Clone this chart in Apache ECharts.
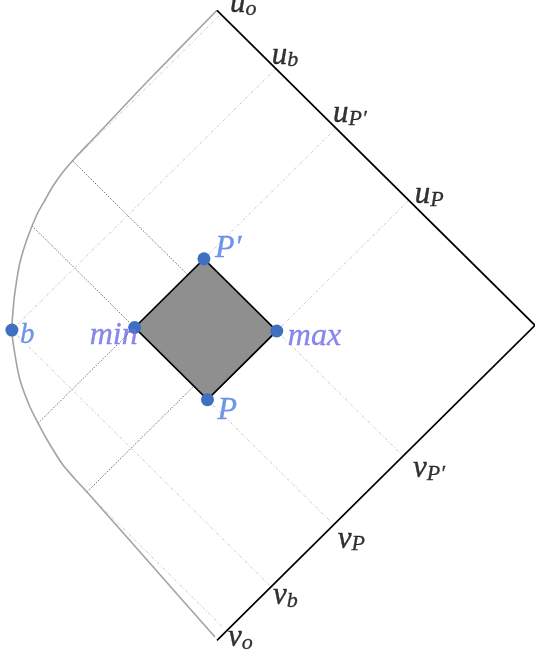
<!DOCTYPE html>
<html>
<head>
<meta charset="utf-8">
<script src="https://cdn.jsdelivr.net/npm/echarts@6/dist/echarts.min.js"></script>
<style>
html,body{margin:0;padding:0;background:#ffffff;}
#c{width:535px;height:656px;}
</style>
</head>
<body>
<div id="c"></div>
<script>
// ---- data (null coordinates: u runs along the upper edge, v along the lower edge) ----
const uTickNames  = ['o', 'b', 'P′', 'P'];
const uTickValues = [0, 0.185, 0.374, 0.603];
const vTickNames  = ['o', 'b', 'P', 'P′'];
const vTickValues = [0, 0.17, 0.367, 0.585];

const pointNames = ['b', 'min', 'max', 'P', 'P′'];
const pointU     = [0.185, 0.374, 0.603, 0.603, 0.374];
const pointV     = [0.17, 0.367, 0.585, 0.367, 0.585];

// diamond corners: min, P', max, P
const diamondU = [0.374, 0.374, 0.603, 0.603];
const diamondV = [0.367, 0.585, 0.585, 0.367];

// boundary curve
const curveU = [0, 0.0037, 0.0093, 0.0112, 0.0145, 0.0211, 0.0307, 0.0414, 0.0654, 0.0898, 0.1132, 0.1407, 0.185,
                0.2296, 0.2771, 0.3357, 0.3906, 0.4353, 0.4796, 0.5207, 0.5602, 0.776, 0.9916];
const curveV = [1, 0.773, 0.6071, 0.5423, 0.5012, 0.4633, 0.4285, 0.3916, 0.3362, 0.2908, 0.257, 0.2209, 0.17,
                0.1353, 0.1034, 0.0763, 0.0582, 0.0458, 0.0361, 0.0328, 0.031, 0.0166, 0.0021];

// faint guide lines at u_o / v_o
const uOLineU = [0.012, 0.012];
const uOLineV = [0.995, 0.54];
const vOLineU = [0.985, 0.55];
const vOLineV = [0.03, 0.03];

// dotted lines: start (u1, v1) -> end (u2, v2)
const dottedU1 = [0.052, 0.374, 0.013, 0.56];
const dottedV1 = [0.367, 0.065, 0.534, 0.031];
const dottedU2 = [0.374, 0.374, 0.56, 0.56];
const dottedV2 = [0.367, 0.367, 0.534, 0.534];

// ---- helpers ----
const xy = (u, v) => [u + v, v - u];

const faint = [];
faint.push([xy(uOLineU[0], uOLineV[0]), xy(uOLineU[1], uOLineV[1])]);
faint.push([xy(vOLineU[0], vOLineV[0]), xy(vOLineU[1], vOLineV[1])]);
faint.push([xy(uTickValues[1], 1), xy(pointU[0], pointV[0])]);
faint.push([xy(uTickValues[2], 1), xy(pointU[4], pointV[4])]);
faint.push([xy(uTickValues[3], 1), xy(pointU[2], pointV[2])]);
faint.push([xy(pointU[0], pointV[0]), xy(1, vTickValues[1])]);
faint.push([xy(pointU[3], pointV[3]), xy(1, vTickValues[2])]);
faint.push([xy(pointU[2], pointV[2]), xy(1, vTickValues[3])]);

const dotted = dottedU1.map((u, i) => [xy(u, dottedV1[i]), xy(dottedU2[i], dottedV2[i])]);

const serifFont = '"Liberation Serif", "DejaVu Serif", serif';

const tickRich = {
  m: {fontFamily: serifFont, fontStyle: 'italic', fontSize: 31, lineHeight: 32, color: '#000',
      textBorderColor: '#000', textBorderWidth: 0.4},
  s: {fontFamily: serifFont, fontStyle: 'italic', fontSize: 22, lineHeight: 14, verticalAlign: 'bottom', color: '#000',
      textBorderColor: '#000', textBorderWidth: 0.3}
};

const uLabelOffsets = [[13, -22], [-4, -29], [-3, -30], [6, -21]];
const vLabelOffsets = [[11, -18], [2, -7], [4, -1], [10, -3]];

const tickLabelData = [];
uTickNames.forEach((n, i) => {
  tickLabelData.push({
    value: xy(uTickValues[i], 1),
    label: {formatter: '{m|u}{s|' + n + '}', offset: uLabelOffsets[i]}
  });
});
vTickNames.forEach((n, i) => {
  tickLabelData.push({
    value: xy(1, vTickValues[i]),
    label: {formatter: '{m|v}{s|' + n + '}', offset: vLabelOffsets[i]}
  });
});

const blueText = '#4a7de4';
const purpleText = '#6a6ae6';
const pointLabelStyle = {
  'b':   {offset: [8, -12.5], align: 'left', fontSize: 29, color: blueText, textBorderColor: blueText},
  'min': {offset: [3, -10], align: 'right', fontSize: 32, color: purpleText, textBorderColor: purpleText},
  'max': {offset: [11, -12], align: 'left', fontSize: 32, color: purpleText, textBorderColor: purpleText},
  'P':   {offset: [10, -7], align: 'left', fontSize: 32, color: blueText, textBorderColor: blueText},
  'P′':  {offset: [11, -28], align: 'left', fontSize: 32, color: blueText, textBorderColor: blueText}
};

const pointLabelData = pointNames.map((n, i) => ({
  value: xy(pointU[i], pointV[i]),
  label: Object.assign({formatter: n, fontFamily: serifFont, fontStyle: 'italic', lineHeight: 36, textBorderWidth: 0.3},
                       pointLabelStyle[n])
}));

const chart = echarts.init(document.getElementById('c'), null, {renderer: 'canvas'});

chart.setOption({
  animation: false,
  backgroundColor: '#ffffff',
  grid: {left: 0, right: 0, top: 0, bottom: 0, containLabel: false},
  xAxis: {type: 'value', min: 0.31761, max: 2.0, show: false},
  yAxis: {type: 'value', min: -1.0498, max: 1.0327, show: false},
  series: [
    {
      type: 'lines', coordinateSystem: 'cartesian2d', silent: true, z: 1,
      lineStyle: {color: '#c2c2c2', width: 0.9, type: [3, 2, 1, 2], opacity: 1},
      data: faint.map(c => ({coords: c}))
    },
    {
      type: 'lines', coordinateSystem: 'cartesian2d', silent: true, z: 2,
      lineStyle: {color: '#444', width: 1, type: [1, 1.6], opacity: 1},
      data: dotted.map(c => ({coords: c}))
    },
    {
      type: 'line', silent: true, z: 3, symbol: 'none', smooth: 0.3,
      lineStyle: {color: '#a3a3a3', width: 1.6},
      data: curveU.map((u, i) => xy(u, curveV[i]))
    },
    {
      type: 'line', silent: true, z: 4, symbol: 'none',
      lineStyle: {color: '#000', width: 1.7},
      data: [xy(0, 1), xy(1, 1), xy(1, 0)]
    },
    {
      type: 'custom', silent: true, z: 5, clip: false,
      renderItem: function (params, api) {
        const pts = diamondU.map((u, i) => api.coord(xy(u, diamondV[i])));
        return {
          type: 'polygon',
          shape: {points: pts},
          style: {fill: '#8f8f8f', stroke: '#000', lineWidth: 1.7}
        };
      },
      data: [[1, 0]]
    },
    {
      type: 'scatter', silent: true, z: 10, symbolSize: 13,
      itemStyle: {color: '#3f6fbf', opacity: 1},
      data: pointNames.map((n, i) => xy(pointU[i], pointV[i]))
    },
    {
      type: 'scatter', silent: true, z: 11, symbolSize: 0.01,
      itemStyle: {color: 'transparent'},
      label: {show: true, position: 'right', distance: 0, verticalAlign: 'top', align: 'left'},
      data: pointLabelData
    },
    {
      type: 'scatter', silent: true, z: 11, symbolSize: 0.01,
      itemStyle: {color: 'transparent'},
      label: {show: true, position: 'right', distance: 0, verticalAlign: 'top', align: 'left', rich: tickRich},
      data: tickLabelData
    }
  ]
});
</script>
</body>
</html>
